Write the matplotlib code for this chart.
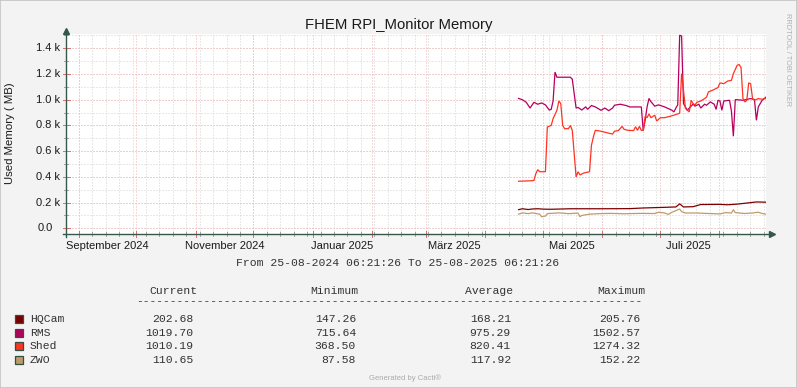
import numpy as np
import pandas as pd
import matplotlib
matplotlib.use('Agg')
import matplotlib.pyplot as plt
import matplotlib.dates as mdates
import matplotlib.transforms as mtransforms
from matplotlib.patches import Rectangle

plt.rcParams['font.family'] = ['Liberation Sans', 'DejaVu Sans']

W, H = 797, 388
T_START = pd.Timestamp('2024-08-25 06:21:26')
T_END = pd.Timestamp('2025-08-25 06:21:26')

series_names = ['HQCam', 'RMS', 'Shed', 'ZWO']
series_colors = ['#7D0000', '#B5005F', '#FF3322', '#C19A6B']

hqcam_dates = ['2025-04-18', '2025-04-20', '2025-04-23', '2025-04-25', '2025-04-28', '2025-05-01',
               '2025-05-05', '2025-05-15', '2025-06-01', '2025-06-15', '2025-06-22', '2025-07-01',
               '2025-07-09', '2025-07-11', '2025-07-13', '2025-07-18', '2025-07-22', '2025-08-01',
               '2025-08-05', '2025-08-10', '2025-08-16', '2025-08-20', '2025-08-25']
hqcam_vals = [145, 152, 146, 150, 152, 149, 148, 152, 152, 153, 158, 162,
              166, 190, 166, 168, 185, 186, 183, 188, 198, 205, 203]

rms_dates = ['2025-04-18', '2025-04-20', '2025-04-22', '2025-04-24', '2025-04-26', '2025-04-28',
             '2025-04-30', '2025-05-02', '2025-05-04', '2025-05-05', '2025-05-06', '2025-05-07',
             '2025-05-08', '2025-05-15', '2025-05-16', '2025-05-18', '2025-05-19', '2025-05-21',
             '2025-05-23', '2025-05-24', '2025-05-26', '2025-05-28', '2025-05-31', '2025-06-02',
             '2025-06-04', '2025-06-06', '2025-06-07', '2025-06-10', '2025-06-13', '2025-06-15',
             '2025-06-21', '2025-06-22', '2025-06-23', '2025-06-24', '2025-06-25', '2025-06-26',
             '2025-06-28', '2025-06-30', '2025-07-03', '2025-07-07', '2025-07-08', '2025-07-09',
             '2025-07-10', '2025-07-11', '2025-07-12', '2025-07-13', '2025-07-15', '2025-07-16',
             '2025-07-18', '2025-07-19', '2025-07-21', '2025-07-22', '2025-07-24', '2025-07-25',
             '2025-07-27', '2025-07-29', '2025-07-30', '2025-07-31', '2025-08-01', '2025-08-02',
             '2025-08-03', '2025-08-06', '2025-08-07', '2025-08-08', '2025-08-09', '2025-08-13',
             '2025-08-17', '2025-08-19', '2025-08-20', '2025-08-21', '2025-08-22', '2025-08-23',
             '2025-08-25']
rms_vals = [1010, 1000, 980, 935, 980, 965, 975, 960, 920, 925, 990, 1215,
            1175, 1175, 1160, 935, 940, 920, 945, 925, 955, 944, 918, 935,
            915, 935, 957, 965, 955, 944, 944, 760, 840, 944, 1010, 985,
            950, 960, 945, 918, 905, 935, 960, 1502, 1495, 970, 918, 935,
            965, 950, 965, 935, 965, 957, 983, 965, 925, 996, 990, 918,
            990, 996, 910, 716, 1001, 996, 1009, 1001, 840, 944, 970, 996,
            1020]

shed_dates = ['2025-04-18', '2025-04-25', '2025-04-26', '2025-04-27', '2025-04-28', '2025-04-29',
              '2025-05-02', '2025-05-03', '2025-05-05', '2025-05-06', '2025-05-08', '2025-05-09',
              '2025-05-10', '2025-05-11', '2025-05-12', '2025-05-14', '2025-05-15', '2025-05-16',
              '2025-05-18', '2025-05-19', '2025-05-20', '2025-05-22', '2025-05-25', '2025-05-26',
              '2025-05-27', '2025-05-28', '2025-05-31', '2025-06-04', '2025-06-06', '2025-06-07',
              '2025-06-09', '2025-06-11', '2025-06-12', '2025-06-14', '2025-06-17', '2025-06-18',
              '2025-06-19', '2025-06-20', '2025-06-21', '2025-06-22', '2025-06-23', '2025-06-24',
              '2025-06-25', '2025-06-26', '2025-06-28', '2025-06-29', '2025-07-01', '2025-07-03',
              '2025-07-06', '2025-07-08', '2025-07-11', '2025-07-12', '2025-07-13', '2025-07-14',
              '2025-07-15', '2025-07-16', '2025-07-17', '2025-07-18', '2025-07-19', '2025-07-20',
              '2025-07-22', '2025-07-24', '2025-07-25', '2025-07-26', '2025-07-28', '2025-07-31',
              '2025-08-01', '2025-08-03', '2025-08-05', '2025-08-07', '2025-08-08', '2025-08-10',
              '2025-08-11', '2025-08-12', '2025-08-13', '2025-08-14', '2025-08-15', '2025-08-16',
              '2025-08-17', '2025-08-18', '2025-08-19', '2025-08-21', '2025-08-23', '2025-08-25']
shed_vals = [366, 370, 372, 425, 456, 440, 440, 788, 800, 853, 918, 990,
             970, 800, 775, 775, 800, 762, 399, 440, 415, 430, 440, 646,
             710, 762, 755, 740, 733, 755, 760, 793, 770, 762, 760, 790,
             762, 793, 762, 762, 871, 860, 890, 860, 880, 835, 860, 860,
             871, 880, 895, 1203, 1073, 933, 918, 905, 996, 970, 960, 980,
             990, 1009, 1020, 1061, 1073, 1095, 1131, 1125, 1145, 1151, 1203, 1268,
             1274, 1250, 1009, 983, 996, 1131, 1125, 1009, 996, 1009, 1004, 1010]

zwo_dates = ['2025-04-18', '2025-04-20', '2025-04-23', '2025-04-25', '2025-04-29', '2025-04-30',
             '2025-05-02', '2025-05-03', '2025-05-09', '2025-05-14', '2025-05-19', '2025-05-20',
             '2025-05-21', '2025-05-25', '2025-05-30', '2025-06-05', '2025-06-12', '2025-06-20',
             '2025-06-28', '2025-06-30', '2025-07-03', '2025-07-05', '2025-07-07', '2025-07-11',
             '2025-07-12', '2025-07-14', '2025-07-20', '2025-07-26', '2025-08-01', '2025-08-04',
             '2025-08-07', '2025-08-08', '2025-08-09', '2025-08-14', '2025-08-18', '2025-08-21',
             '2025-08-23', '2025-08-25']
zwo_vals = [110, 120, 114, 120, 110, 90, 95, 114, 120, 114, 118, 90,
            100, 110, 114, 116, 113, 116, 115, 125, 120, 108, 125, 150,
            130, 119, 119, 115, 112, 122, 119, 145, 122, 115, 119, 125,
            115, 110]

stat_headers = ['Current', 'Minimum', 'Average', 'Maximum']
stat_current = ['202.68', '1019.70', '1010.19', '110.65']
stat_minimum = ['147.26', '715.64', '368.50', '87.58']
stat_average = ['168.21', '975.29', '820.41', '117.92']
stat_maximum = ['205.76', '1502.57', '1274.32', '152.22']

month_labels = ['September 2024', 'November 2024', 'Januar 2025', 'März 2025', 'Mai 2025', 'Juli 2025']
month_label_starts = ['2024-09-01', '2024-11-01', '2025-01-01', '2025-03-01', '2025-05-01', '2025-07-01']
ytick_vals = [0, 200, 400, 600, 800, 1000, 1200, 1400]
ytick_labels = ['0.0', '0.2 k', '0.4 k', '0.6 k', '0.8 k', '1.0 k', '1.2 k', '1.4 k']


def fx(x):
    return x / W


def fy(y):
    return 1 - y / H


fig = plt.figure(figsize=(W / 100, H / 100), dpi=100, facecolor='#F3F3F3')
ax = fig.add_axes([fx(66), fy(234.3), (766 - 66) / W, 200 / H])
ax.set_facecolor('white')
ax.set_xlim(T_START, T_END)
ax.set_ylim(-46.7, 1508.9)
for s in ax.spines.values():
    s.set_visible(False)
ax.set_xticks([])
ax.set_yticks([])

# grid
weeks = pd.date_range('2024-09-01', T_END, freq='7D')
months = pd.date_range('2024-09-01', T_END, freq='MS')
grid_gray = '#D2D2D2'
grid_red = '#F2B4B4'
for d in weeks:
    ax.axvline(d, color=grid_gray, lw=0.72, ls=(0, (1, 2)), zorder=1)
for v in range(0, 1501, 100):
    ax.axhline(v, color=grid_gray, lw=0.72, ls=(0, (1, 2)), zorder=1)
for d in months:
    ax.axvline(d, color=grid_red, lw=0.72, ls=(0, (1, 2)), zorder=1.5)
for v in ytick_vals:
    ax.axhline(v, color=grid_red, lw=0.72, ls=(0, (1, 2)), zorder=1.5)

# tick marks on the axes
bx = mtransforms.blended_transform_factory(ax.transData, ax.transAxes)
by = mtransforms.blended_transform_factory(ax.transAxes, ax.transData)
for d in weeks:
    ax.plot([d, d], [-0.01, 0.01], color='#A8A8A8', lw=0.72, transform=bx, clip_on=False, zorder=3)
for d in months:
    ax.plot([d, d], [-0.015, 0.015], color='#E07070', lw=0.72, transform=bx, clip_on=False, zorder=3)
for v in range(0, 1501, 100):
    ax.plot([-0.003, 0.003], [v, v], color='#A8A8A8', lw=0.72, transform=by, clip_on=False, zorder=3)
for v in ytick_vals:
    ax.plot([-0.005, 0.005], [v, v], color='#E07070', lw=0.72, transform=by, clip_on=False, zorder=3)

# data
all_dates = [hqcam_dates, rms_dates, shed_dates, zwo_dates]
all_vals = [hqcam_vals, rms_vals, shed_vals, zwo_vals]
for name, c, ds, vs in zip(series_names, series_colors, all_dates, all_vals):
    ax.plot(pd.to_datetime(ds) + pd.Timedelta(hours=6), vs, color=c, lw=0.9, zorder=4,
            solid_joinstyle='miter')

# axes with arrows
axis_col = '#35574A'
ax.plot([-0.005, 1.006], [0, 0], color=axis_col, lw=1.0, transform=ax.transAxes, clip_on=False, zorder=5)
ax.plot([0, 0], [-0.012, 1.01], color=axis_col, lw=1.0, transform=ax.transAxes, clip_on=False, zorder=5)
ax.plot([1.009], [0], marker='>', ms=4.5, color=axis_col, mec=axis_col, transform=ax.transAxes,
        clip_on=False, zorder=5)
ax.plot([0], [1.018], marker='^', ms=4.5, color=axis_col, mec=axis_col, transform=ax.transAxes,
        clip_on=False, zorder=5)

# labels
for lab, st in zip(month_labels, month_label_starts):
    ax.text(pd.Timestamp(st) + pd.Timedelta(days=15), -0.035, lab, transform=bx, ha='center',
            va='top', fontsize=8, color='#1A1A1A')
ylab_t = mtransforms.blended_transform_factory(fig.transFigure, ax.transData)
for v, lab in zip(ytick_vals, ytick_labels):
    xr = 60 if 'k' in lab else 52.5
    ax.text(fx(xr), v, lab, transform=ylab_t, ha='right', va='center', fontsize=8, color='#1A1A1A')

fig.text(fx(10.5), fy(133), 'Used Memory ( MB)', rotation=90, ha='center', va='center',
         fontsize=8.2, color='#1A1A1A')
fig.text(fx(398.5), fy(29), 'FHEM RPI_Monitor Memory', ha='center', va='baseline',
         fontsize=10.7, color='#1A1A1A')
fig.text(fx(787), fy(13), 'RRDTOOL / TOBI OETIKER', rotation=270, ha='center', va='top',
         fontsize=5.3, color='#B0B0B0')

mono = ['Liberation Mono', 'DejaVu Sans Mono']
txt_col = '#333333'
fig.text(fx(398), fy(263), 'From 25-08-2024 06:21:26 To 25-08-2025 06:21:26', ha='center',
         va='center', fontsize=8.2, family=mono, color=txt_col)

col_right_head = [197, 358, 513, 645]
col_right_vals = [193, 356, 511, 640]
for h, xr in zip(stat_headers, col_right_head):
    fig.text(fx(xr), fy(291), h, ha='right', va='center', fontsize=8.2, family=mono, color=txt_col)
fig.text(fx(136), fy(301), '-' * 75, ha='left', va='center', fontsize=8.12, family=mono, color=txt_col)

row_y = [319, 333, 346, 360]
cols = [stat_current, stat_minimum, stat_average, stat_maximum]
for i, (name, c) in enumerate(zip(series_names, series_colors)):
    y = row_y[i]
    fig.patches.append(Rectangle((fx(15), fy(y + 4)), 8 / W, 8 / H, transform=fig.transFigure,
                                 facecolor=c, edgecolor='#2F4F3F', lw=0.9))
    fig.text(fx(30), fy(y), name, ha='left', va='center', fontsize=8.2, family=mono, color=txt_col)
    for col, xr in zip(cols, col_right_vals):
        fig.text(fx(xr), fy(y), col[i], ha='right', va='center', fontsize=8.2, family=mono,
                 color=txt_col)

fig.text(fx(405), fy(378), 'Generated by Cacti®', ha='center', va='center', fontsize=5.5,
         color='#AAAAAA')

fig.patches.append(Rectangle((0, 0), 1, 1, transform=fig.transFigure, fill=False,
                             edgecolor='#C4C4C4', lw=1.2))

fig.savefig('out.png', dpi=100, facecolor=fig.get_facecolor())
